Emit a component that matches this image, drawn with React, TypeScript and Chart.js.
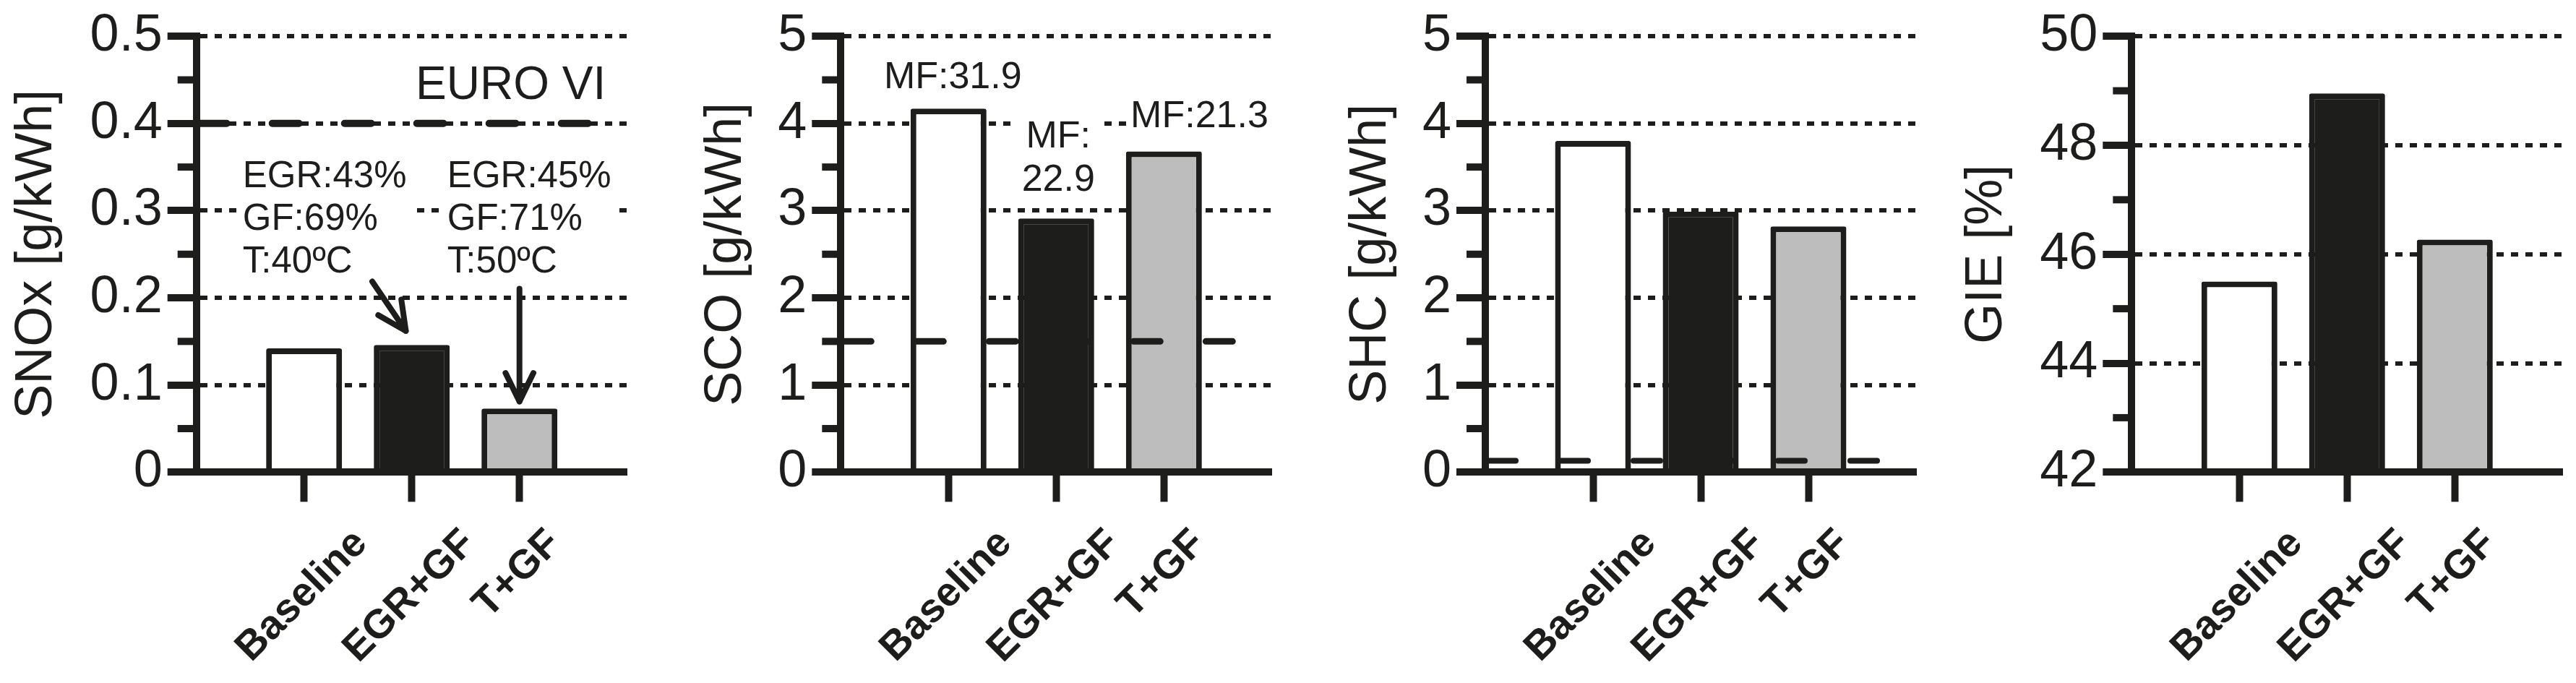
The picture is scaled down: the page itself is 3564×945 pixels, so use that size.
import React, { useEffect, useRef } from 'react'
import { Chart, registerables } from 'chart.js'
import type { Plugin, ChartConfiguration } from 'chart.js'

Chart.register(...registerables)

const INK = '#1d1d1b'
const GREY = '#bdbdbd'
const FONT = "'Liberation Sans', Arial, Helvetica, sans-serif"

// data
const categories = ['Baseline', 'EGR+GF', 'T+GF']
const barColors = ['#ffffff', INK, GREY]

const snox = [0.142, 0.146, 0.073]
const sco = [4.17, 2.91, 3.68]
const shc = [3.8, 2.99, 2.82]
const gie = [45.5, 48.95, 46.27]

// EURO VI limits
const euroNox = 0.4
const euroCo = 1.5
const euroHc = 0.13

// layout (px)
const W = 891
const H = 945
const PLOT_TOP = 46.7
const PLOT_BOTTOM = 653.3
const PLOT_W = 596
const LABEL_TOP = 726

type Note = { lines: string[]; x: number; y: number; align: 'left' | 'center'; size: number; box: boolean }
type Arrow = { from: [number, number]; to: [number, number] }

type Panel = {
  title: string
  values: number[]
  limit?: number
  limitWidth?: number
  min: number
  max: number
  step: number
  left: number
  axisX: number
  titlePad: number
  notes: Note[]
  arrows: Arrow[]
}

const panels: Panel[] = [
  {
    title: 'SNOx [g/kWh]',
    values: snox,
    limit: euroNox,
    limitWidth: 10,
    min: 0,
    max: 0.5,
    step: 0.1,
    left: 0,
    axisX: 271.7,
    titlePad: 8,
    notes: [
      { lines: ['EURO VI'], x: 2.036, y: 0.428, align: 'left', size: 64, box: false },
      { lines: ['EGR:43%', 'GF:69%', 'T:40ºC'], x: 0.43, y: 0.327, align: 'left', size: 51, box: true },
      { lines: ['EGR:45%', 'GF:71%', 'T:50ºC'], x: 2.33, y: 0.327, align: 'left', size: 51, box: true },
    ],
    arrows: [
      { from: [1.633, 0.2187], to: [1.945, 0.162] },
      { from: [3, 0.2104], to: [3, 0.081] },
    ],
  },
  {
    title: 'SCO [g/kWh]',
    values: sco,
    limit: euroCo,
    limitWidth: 9,
    min: 0,
    max: 5,
    step: 1,
    left: 891,
    axisX: 1163.3,
    titlePad: 71,
    notes: [
      { lines: ['MF:31.9'], x: 1.04, y: 4.405, align: 'center', size: 52, box: false },
      { lines: ['MF:', '22.9'], x: 2.02, y: 3.723, align: 'center', size: 52, box: true },
      { lines: ['MF:21.3'], x: 2.69, y: 3.957, align: 'left', size: 52, box: true },
    ],
    arrows: [],
  },
  {
    title: 'SHC [g/kWh]',
    values: shc,
    limit: euroHc,
    limitWidth: 8,
    min: 0,
    max: 5,
    step: 1,
    left: 1782,
    axisX: 2055,
    titlePad: 72,
    notes: [],
    arrows: [],
  },
  {
    title: 'GIE [%]',
    values: gie,
    min: 42,
    max: 50,
    step: 2,
    left: 2673,
    axisX: 2949.3,
    titlePad: 33,
    notes: [],
    arrows: [],
  },
]

const drawArrow = (ctx: CanvasRenderingContext2D, x1: number, y1: number, x2: number, y2: number) => {
  const ang = Math.atan2(y2 - y1, x2 - x1)
  const len = 44
  const spread = (26 * Math.PI) / 180
  ctx.beginPath()
  ctx.moveTo(x1, y1)
  ctx.lineTo(x2, y2)
  for (const s of [-1, 1]) {
    const a = ang + Math.PI + s * spread
    ctx.moveTo(x2, y2)
    ctx.lineTo(x2 + len * Math.cos(a), y2 + len * Math.sin(a))
  }
  ctx.stroke()
}

function makePlugin(p: Panel): Plugin<'bar'> {
  return {
    id: 'panelExtras',
    afterDraw(chart) {
      const { ctx, chartArea } = chart
      const xs: any = chart.scales.x
      const ys: any = chart.scales.y
      ctx.save()

      // minor ticks half way between the major ones
      ctx.strokeStyle = INK
      ctx.lineWidth = 10
      const ticks = ys.ticks
      for (let k = 0; k < ticks.length - 1; k++) {
        const py = ys.getPixelForValue((ticks[k].value + ticks[k + 1].value) / 2)
        ctx.beginPath()
        ctx.moveTo(chartArea.left - 26, py)
        ctx.lineTo(chartArea.left, py)
        ctx.stroke()
      }

      // rotated category labels, centred under each tick
      const lsize = 56
      ctx.font = `bold ${lsize}px ${FONT}`
      ctx.fillStyle = INK
      ctx.textAlign = 'center'
      ctx.textBaseline = 'alphabetic'
      const cap = lsize * 0.716
      categories.forEach((c, i) => {
        const px = xs.getPixelForValue(i + 1) - 6
        const w = ctx.measureText(c).width
        const cy = LABEL_TOP + (w + cap) / (2 * Math.SQRT2)
        ctx.save()
        ctx.translate(px, cy)
        ctx.rotate(-Math.PI / 4)
        ctx.fillText(c, 0, cap / 2)
        ctx.restore()
      })

      // text notes
      for (const n of p.notes) {
        ctx.font = `${n.size}px ${FONT}`
        const x = xs.getPixelForValue(n.x)
        const y = ys.getPixelForValue(n.y)
        const lh = n.size * 1.155
        const maxW = Math.max(...n.lines.map((l) => ctx.measureText(l).width))
        if (n.box) {
          const bx = n.align === 'left' ? x - 3 : x - maxW / 2 - 8
          const bw = n.align === 'left' ? maxW + 11 : maxW + 16
          const top = y - n.size * 0.716 - 5
          const bottom = y + (n.lines.length - 1) * lh + n.size * 0.22
          ctx.fillStyle = '#ffffff'
          ctx.fillRect(bx, top, bw, bottom - top)
        }
        ctx.fillStyle = INK
        ctx.textAlign = n.align
        ctx.textBaseline = 'alphabetic'
        n.lines.forEach((l, k) => ctx.fillText(l, x, y + k * lh))
      }

      // arrows
      ctx.strokeStyle = INK
      ctx.lineWidth = 8
      ctx.lineCap = 'round'
      ctx.lineJoin = 'round'
      for (const a of p.arrows) {
        drawArrow(
          ctx,
          xs.getPixelForValue(a.from[0]),
          ys.getPixelForValue(a.from[1]),
          xs.getPixelForValue(a.to[0]),
          ys.getPixelForValue(a.to[1]),
        )
      }
      ctx.restore()
    },
  }
}

function buildConfig(p: Panel): ChartConfiguration<'bar'> {
  const labels = ['', ...categories, '']
  const last = labels.length - 1
  const datasets: any[] = [
    {
      type: 'bar',
      order: 2,
      data: [null, ...p.values, null],
      backgroundColor: ['#ffffff', ...barColors, '#ffffff'],
      borderColor: INK,
      borderWidth: 8,
      borderSkipped: 'start',
      borderRadius: 3,
      barPercentage: 0.705,
      categoryPercentage: 1,
    },
  ]
  if (p.limit !== undefined) {
    datasets.push({
      type: 'line',
      order: 1,
      data: labels.map(() => p.limit),
      borderColor: INK,
      borderWidth: p.limitWidth,
      borderDash: [37, 63],
      borderDashOffset: -5,
      borderCapStyle: 'round',
      pointRadius: 0,
      fill: false,
      tension: 0,
    })
  }

  return {
    type: 'bar',
    data: { labels, datasets },
    options: {
      responsive: false,
      maintainAspectRatio: false,
      devicePixelRatio: 1,
      animation: false,
      events: [],
      layout: {
        padding: { top: PLOT_TOP, left: 0, bottom: 0, right: W - (p.axisX - p.left + PLOT_W) },
      },
      plugins: {
        legend: { display: false },
        tooltip: { enabled: false },
      },
      scales: {
        x: {
          type: 'category',
          offset: false,
          grid: {
            offset: false,
            drawOnChartArea: false,
            drawTicks: true,
            tickLength: 41,
            tickWidth: 10,
            color: INK,
            lineWidth: 1,
            tickColor: (c: any) => (c.index === 0 || c.index === last ? 'rgba(0,0,0,0)' : INK),
          },
          border: { display: true, color: INK, width: 10, z: 1 },
          ticks: { display: false },
          afterFit: (s: any) => {
            s.height = H - PLOT_BOTTOM
          },
        },
        y: {
          type: 'linear',
          min: p.min,
          max: p.max,
          ticks: {
            stepSize: p.step,
            padding: 7,
            color: INK,
            font: { family: FONT, size: 72 },
            callback: (v: any) => String(Math.round(Number(v) * 100) / 100),
          },
          grid: {
            color: INK,
            lineWidth: 6,
            drawTicks: true,
            tickLength: 40,
            tickWidth: 10,
            tickColor: INK,
          },
          border: { display: true, color: INK, width: 10, dash: [10, 10], z: 1 },
          title: {
            display: true,
            text: p.title,
            color: INK,
            font: { family: FONT, size: 72 },
            padding: { top: p.titlePad, bottom: 0 },
          },
          afterFit: (s: any) => {
            s.width = p.axisX - p.left
          },
        },
      } as any,
    },
    plugins: [makePlugin(p)],
  }
}

const PanelChart: React.FC<{ panel: Panel }> = ({ panel }) => {
  const ref = useRef<HTMLCanvasElement | null>(null)

  useEffect(() => {
    if (!ref.current) return
    const chart = new Chart(ref.current, buildConfig(panel))
    return () => chart.destroy()
  }, [panel])

  return (
    <canvas
      ref={ref}
      width={W}
      height={H}
      style={{ position: 'absolute', left: panel.left, top: 0, width: W, height: H }}
    />
  )
}

export default function App() {
  return (
    <div style={{ position: 'absolute', left: 0, top: 0, width: 3564, height: H, background: '#ffffff' }}>
      {panels.map((p) => (
        <PanelChart key={p.title} panel={p} />
      ))}
    </div>
  )
}
